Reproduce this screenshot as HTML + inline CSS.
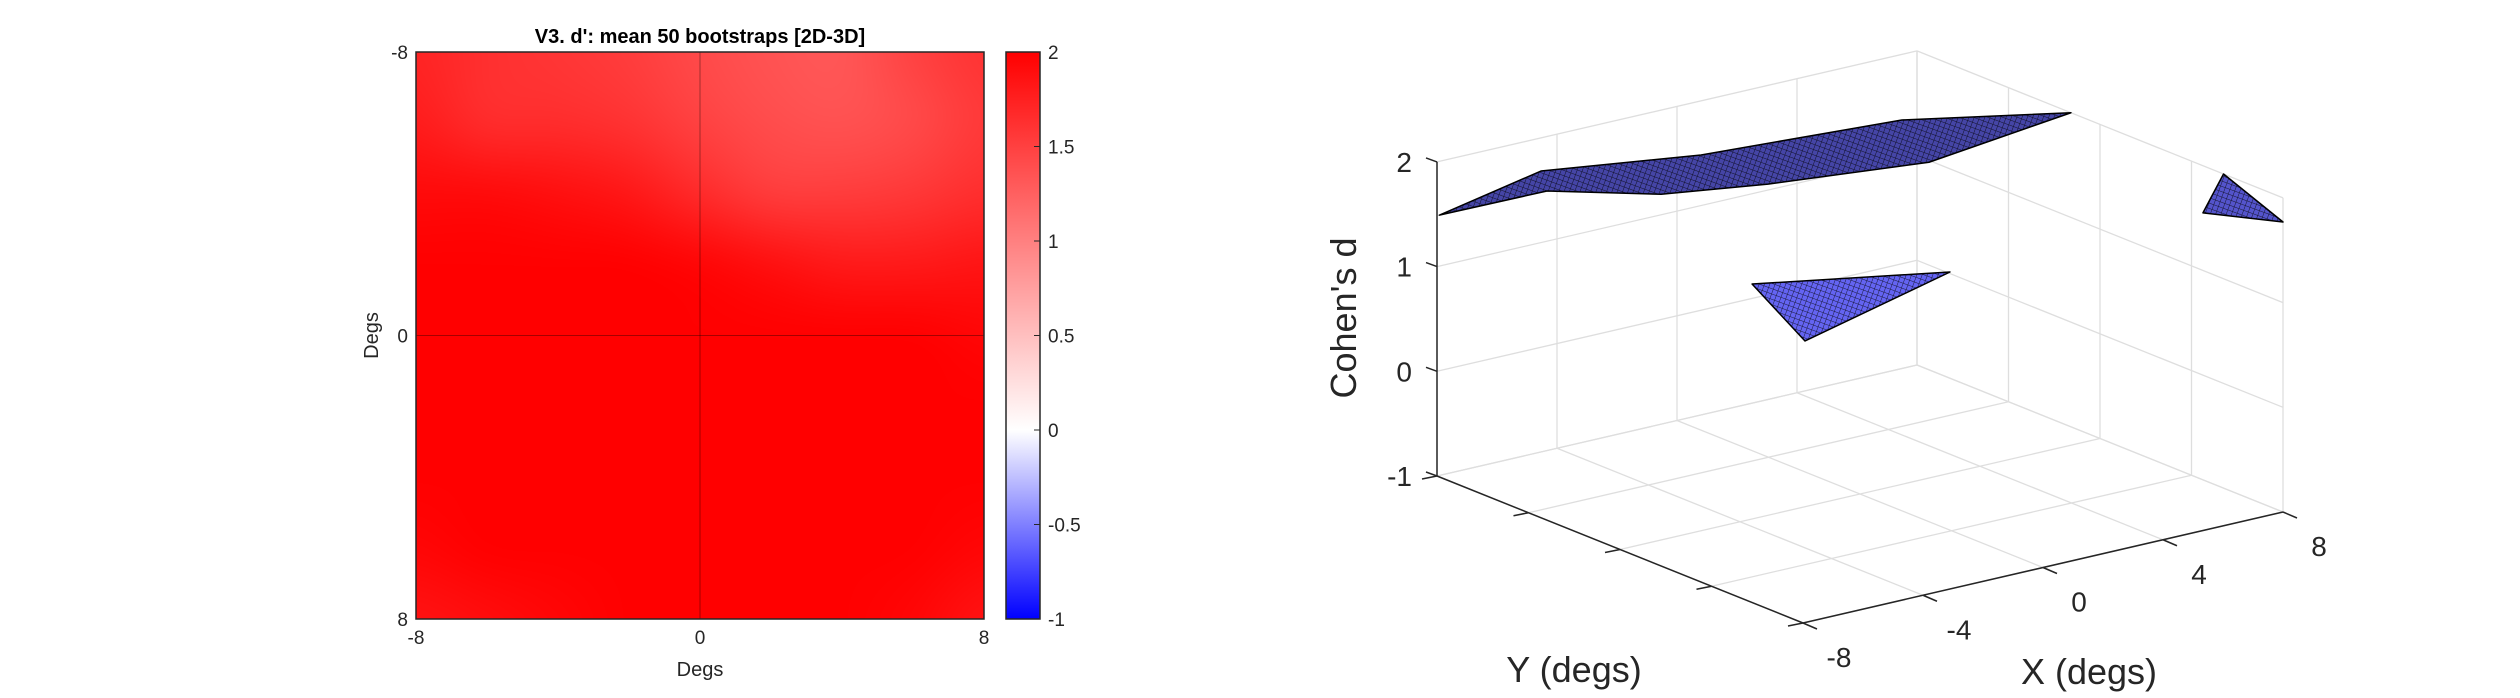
<!DOCTYPE html>
<html><head><meta charset="utf-8">
<style>
html,body{margin:0;padding:0;background:#fff;}
#wrap{position:relative;width:2520px;height:698px;overflow:hidden;font-family:"Liberation Sans",Arial,sans-serif;}
#hm{position:absolute;left:416px;top:52px;width:568px;height:567px;}
#svg{position:absolute;left:0;top:0;}
</style></head>
<body>
<div id="wrap">
<canvas id="hm" width="568" height="567"></canvas>
<svg id="svg" width="2520" height="698" xmlns="http://www.w3.org/2000/svg">
<defs>
<pattern id="mesh" width="5" height="5" patternUnits="userSpaceOnUse" patternTransform="rotate(20)">
<rect width="5" height="5" fill="#6a6aff"/>
<path d="M0 0L5 0M0 0L0 5" stroke="#000" stroke-width="1" opacity="0.75"/>
</pattern>
<linearGradient id="cbgrad" x1="0" y1="1" x2="0" y2="0"></linearGradient>
</defs>
<g id="g2d"></g>
<g id="g3d"></g>
</svg>
</div>
<script>
// ---------- heatmap data ----------
const hmX=[-8,-6,-4,-2,0,2,4,6,8];
const hmY=[-8,-6,-4,-2,0,2,4,6,8];
const hmRow0=[1.72,1.62,1.58,1.52,1.42,1.35,1.32,1.48,1.6];
const hmRow1=[1.78,1.65,1.65,1.6,1.48,1.4,1.36,1.42,1.55];
const hmRow2=[1.92,1.92,1.88,1.82,1.66,1.52,1.52,1.56,1.64];
const hmRow3=[2,2,2,2,1.96,1.88,1.8,1.8,1.84];
const hmRow4=[2,2,2,2,2,2,2,2,1.95];
const hmRow5=[2,2,2,2,2,2,2,2,2];
const hmRow6=[2,2,2,2,2,2,2,2,2];
const hmRow7=[1.95,2,2,2,2,2,2,2,1.95];
const hmRow8=[1.85,1.9,1.95,2,2,2,2,1.95,1.85];
const hmRows=[hmRow0,hmRow1,hmRow2,hmRow3,hmRow4,hmRow5,hmRow6,hmRow7,hmRow8];
const hmXTicks=[-8,0,8];
const hmYTicks=[-8,0,8];
const cbTicks=[-1,-0.5,0,0.5,1,1.5,2];
const cbTickLabels=["-1","-0.5","0","0.5","1","1.5","2"];
// ---------- 3D data ----------
const xTicks=[-8,-4,0,4,8];
const yTicks=[-8,-4,0,4,8];
const zTicks=[-1,0,1,2];
const sheetX=[-8,-6.28,-2.05,4.04,8,4.87,0.31,-2.48,-4.89];
const sheetY=[-7.9,-5.71,-4.26,-3.47,-1.27,-3.37,-4.43,-5.44,-7.27];
const sheetZ=[1.5,2,2,2,2,1.55,1.55,1.55,1.58];
const midX=[-1.15,3.67,-3.03];
const midY=[-3.21,-0.88,1.57];
const midZ=[0.8,0.8,0.8];
const rightX=[8,8,8,8];
const rightY=[5.4,8,4.5,4.8];
const rightZ=[2.0,1.77,1.55,1.7];

const NS="http://www.w3.org/2000/svg";
function mk(tag,attrs,parent){const e=document.createElementNS(NS,tag);for(const k in attrs)e.setAttribute(k,attrs[k]);parent.appendChild(e);return e;}
function cmap(v){v=Math.max(-1,Math.min(2,v));
 if(v>=0){const t=v/2;const c=Math.round(255*(1-t));return [255,c,c];}
 const t=-v;const c=Math.round(255*(1-t));return [c,c,255];}
function rgb(a){return "rgb("+a[0]+","+a[1]+","+a[2]+")";}

const HX0=416,HX1=984,HY0=52,HY1=619;
function hx(x){return HX0+(x+8)/16*(HX1-HX0);}
function hy(y){return HY0+(y+8)/16*(HY1-HY0);}
(function(){
 const small=document.createElement("canvas");small.width=hmX.length;small.height=hmY.length;
 const sc=small.getContext("2d");const img=sc.createImageData(hmX.length,hmY.length);
 hmRows.forEach((row,j)=>row.forEach((v,i)=>{const c=cmap(v);const k=(j*hmX.length+i)*4;img.data[k]=c[0];img.data[k+1]=c[1];img.data[k+2]=c[2];img.data[k+3]=255;}));
 sc.putImageData(img,0,0);
 const cv=document.getElementById("hm");const ctx=cv.getContext("2d");
 ctx.imageSmoothingEnabled=true;ctx.imageSmoothingQuality="high";
 const cw=(HX1-HX0)/(hmX.length-1),ch=(HY1-HY0)/(hmY.length-1);
 ctx.drawImage(small,0,0,hmX.length,hmY.length,-cw/2,-ch/2,(HX1-HX0)+cw,(HY1-HY0)+ch);
})();
const g2=document.getElementById("g2d");
let l=mk("line",{x1:hx(0),y1:HY0,x2:hx(0),y2:HY1,stroke:"#000","stroke-opacity":"0.35","stroke-width":1},g2);


l=mk("line",{x1:HX0,y1:hy(0),x2:HX1,y2:hy(0),stroke:"#000","stroke-opacity":"0.35","stroke-width":1},g2);


l=mk("rect",{x:HX0,y:HY0,width:HX1-HX0,height:HY1-HY0,fill:"none",stroke:"#262626","stroke-width":1.5},g2);


hmXTicks.forEach(t=>{const e=mk("text",{x:hx(t),y:HY1+25,"text-anchor":"middle","font-size":19,fill:"#262626"},g2);e.textContent=String(t);
 
 });
hmYTicks.forEach(t=>{const e=mk("text",{x:HX0-8,y:hy(t)+7,"text-anchor":"end","font-size":19,fill:"#262626"},g2);e.textContent=String(t);
 
 });
let t=mk("text",{x:(HX0+HX1)/2,y:676,"text-anchor":"middle","font-size":20,fill:"#262626"},g2);t.textContent="Degs";


t=mk("text",{x:0,y:0,"text-anchor":"middle","font-size":20,fill:"#262626",transform:"translate(378,"+((HY0+HY1)/2)+") rotate(-90)"},g2);t.textContent="Degs";


t=mk("text",{x:(HX0+HX1)/2,y:43,"text-anchor":"middle","font-size":20,"font-weight":"bold",fill:"#000"},g2);t.textContent="V3. d': mean 50 bootstraps [2D-3D]";


const CX0=1006,CX1=1040;
function cy(v){return HY1-(v+1)/3*(HY1-HY0);}
const grad=document.getElementById("cbgrad");
cbTicks.forEach(v=>{mk("stop",{offset:((v+1)/3),"stop-color":rgb(cmap(v))},grad);});
l=mk("rect",{x:CX0,y:HY0,width:CX1-CX0,height:HY1-HY0,fill:"url(#cbgrad)",stroke:"#262626","stroke-width":1.5},g2);


cbTicks.forEach((v,i)=>{
 const k=mk("line",{x1:CX1-6,y1:cy(v),x2:CX1,y2:cy(v),stroke:"#262626","stroke-width":1},g2);
 
 
 const e=mk("text",{x:CX1+8,y:cy(v)+7,"font-size":19,fill:"#262626"},g2);e.textContent=cbTickLabels[i];
 
 
});

function P(x,y,z){const p=(x+8)/16,q=(y+8)/16;return [1437+480*p+366*q,476-111*p+147*q-104.7*(z+1)];}
const g3=document.getElementById("g3d");
function line3(a,b,st,w,name){const A=P(...a),B=P(...b);const e=mk("line",{x1:A[0],y1:A[1],x2:B[0],y2:B[1],stroke:st,"stroke-width":w},g3);
 
 return e;}
const GC="#dedede";
xTicks.forEach(x=>line3([x,-8,-1],[x,8,-1],GC,1.3,'floor-grid-x'));
yTicks.forEach(y=>line3([-8,y,-1],[8,y,-1],GC,1.3,'floor-grid-y'));
xTicks.forEach(x=>line3([x,-8,-1],[x,-8,2],GC,1.3,'wall-grid-x'));
zTicks.forEach(z=>line3([-8,-8,z],[8,-8,z],GC,1.3,'wall-grid-z'));
yTicks.forEach(y=>line3([8,y,-1],[8,y,2],GC,1.3,'wall-grid-y'));
zTicks.forEach(z=>line3([8,-8,z],[8,8,z],GC,1.3,'wall-grid-z-right'));
line3([-8,-8,-1],[-8,-8,2],"#262626",1.5,'z-axis-line');
line3([-8,-8,-1],[-8,8,-1],"#262626",1.5,'y-axis-line');
line3([-8,8,-1],[8,8,-1],"#262626",1.5,'x-axis-line');
zTicks.forEach(z=>{const A=P(-8,-8,z);
 const k=mk("line",{x1:A[0],y1:A[1],x2:A[0]-11,y2:A[1]-4,stroke:"#262626","stroke-width":1.5},g3);
 
 
 const e=mk("text",{x:A[0]-25,y:A[1]+10,"text-anchor":"end","font-size":28,fill:"#262626"},g3);e.textContent=String(z);
 
 });
xTicks.forEach(x=>{const A=P(x,8,-1);
 const k=mk("line",{x1:A[0],y1:A[1],x2:A[0]+14,y2:A[1]+6,stroke:"#262626","stroke-width":1.5},g3);
 
 
 const e=mk("text",{x:A[0]+36,y:A[1]+44,"text-anchor":"middle","font-size":28,fill:"#262626"},g3);e.textContent=String(x);
 
 });
yTicks.forEach(y=>{const A=P(-8,y,-1);
 const k=mk("line",{x1:A[0],y1:A[1],x2:A[0]-15,y2:A[1]+3,stroke:"#262626","stroke-width":1.5},g3);
 
 });
t=mk("text",{x:1574,y:682,"text-anchor":"middle","font-size":36,fill:"#262626"},g3);t.textContent="Y (degs)";


t=mk("text",{x:2089,y:684,"text-anchor":"middle","font-size":36,fill:"#262626"},g3);t.textContent="X (degs)";


t=mk("text",{x:0,y:0,"text-anchor":"middle","font-size":36,fill:"#262626",transform:"translate(1356,318) rotate(-90)"},g3);t.textContent="Cohen's d";


function surf(xs,ys,zs,name,op){
 const pts=xs.map((x,i)=>P(x,ys[i],zs[i]).join(",")).join(" ");
 const e=mk("polygon",{points:pts,fill:"url(#mesh)",stroke:"#000","stroke-width":1.5,"stroke-linejoin":"round"},g3);
 
 
 const d=mk("polygon",{points:pts,fill:"#000","fill-opacity":op,stroke:"none"},g3);
 
 
}
surf(sheetX,sheetY,sheetZ,'surface-upper-sheet',0.35);
surf(midX,midY,midZ,'surface-middle-patch',0.05);
surf(rightX,rightY,rightZ,'surface-right-patch',0.2);
</script>
</body></html>
